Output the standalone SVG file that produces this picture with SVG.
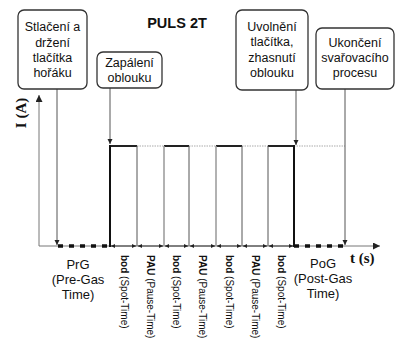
<svg xmlns="http://www.w3.org/2000/svg" width="405" height="342" viewBox="0 0 405 342">
<style>
.box{fill:#fff;stroke:#333;stroke-width:1.3}
.lbl{font-family:"Liberation Sans",Arial,sans-serif;font-size:12.5px;fill:#111;text-anchor:middle}
.rot{font-family:"Liberation Sans",Arial,sans-serif;font-size:10px;fill:#111}
.rot .b{font-weight:bold}
.ser{font-family:"Liberation Serif","Times New Roman",serif;font-weight:bold;font-size:15px;fill:#111}
.conn{stroke:#555;stroke-width:1;fill:none}
.axis{stroke:#777;stroke-width:1;fill:none}
.dim{stroke:#444;stroke-width:1;fill:none;marker-start:url(#dl);marker-end:url(#dr)}
</style>
<defs>
<marker id="ah" viewBox="0 0 10 10" refX="10" refY="5" markerWidth="5" markerHeight="6" markerUnits="userSpaceOnUse" orient="auto"><path d="M0,0L10,5L0,10z" fill="#222"/></marker>
<marker id="ax" viewBox="0 0 10 10" refX="10" refY="5" markerWidth="9" markerHeight="7" markerUnits="userSpaceOnUse" orient="auto"><path d="M0,0L10,5L0,10z" fill="#222"/></marker>
<marker id="dr" viewBox="0 0 10 10" refX="10" refY="5" markerWidth="5" markerHeight="4" markerUnits="userSpaceOnUse" orient="auto"><path d="M0,0L10,5L0,10z" fill="#222"/></marker>
<marker id="dl" viewBox="0 0 10 10" refX="0" refY="5" markerWidth="5" markerHeight="4" markerUnits="userSpaceOnUse" orient="auto"><path d="M10,0L0,5L10,10z" fill="#222"/></marker>
</defs>
<rect width="405" height="342" fill="#fff"/>

<text x="177" y="28" font-family="Liberation Sans,Arial,sans-serif" font-weight="bold" font-size="14.5" text-anchor="middle" fill="#111">PULS 2T</text>

<g id="axes">
<line class="axis" x1="39" y1="246" x2="39" y2="95" marker-end="url(#ax)"/>
<line class="axis" x1="39" y1="246" x2="380" y2="246" marker-end="url(#ax)"/>
<text class="ser" transform="translate(26,113) rotate(-90)" text-anchor="middle">I (A)</text>
<text class="ser" x="350" y="263">t (s)</text>
</g>

<g id="signal">
<line x1="58" y1="246" x2="110" y2="246" stroke="#111" stroke-width="3.5" stroke-dasharray="5,6"/>
<line x1="294" y1="246" x2="345" y2="246" stroke="#111" stroke-width="3.5" stroke-dasharray="5,6"/>
<g stroke="#aaa" stroke-width="1" stroke-dasharray="1.5,1">
<line x1="137" y1="146" x2="164" y2="146"/>
<line x1="189" y1="146" x2="216" y2="146"/>
<line x1="242" y1="146" x2="268" y2="146"/>
<line x1="294" y1="146" x2="345" y2="146"/>
</g>
<g stroke="#222" stroke-width="2">
<line x1="110" y1="146" x2="137" y2="146"/>
<line x1="164" y1="146" x2="189" y2="146"/>
<line x1="216" y1="146" x2="242" y2="146"/>
<line x1="268" y1="146" x2="294" y2="146"/>
</g>
<line x1="110" y1="247" x2="110" y2="145" stroke="#111" stroke-width="2"/>
<line x1="294" y1="247" x2="294" y2="145" stroke="#111" stroke-width="2"/>
<g stroke="#999" stroke-width="1.5">
<line x1="164" y1="246" x2="164" y2="146"/>
<line x1="216" y1="246" x2="216" y2="146"/>
</g>
<g stroke="#555" stroke-width="1">
<line x1="137" y1="246" x2="137" y2="146"/>
<line x1="189" y1="246" x2="189" y2="146"/>
<line x1="242" y1="246" x2="242" y2="146"/>
<line x1="268" y1="246" x2="268" y2="146"/>
</g>
<line class="dim" x1="111" y1="246" x2="136" y2="246"/>
<line class="dim" x1="138" y1="246" x2="163" y2="246"/>
<line class="dim" x1="165" y1="246" x2="188" y2="246"/>
<line class="dim" x1="190" y1="246" x2="215" y2="246"/>
<line class="dim" x1="217" y1="246" x2="241" y2="246"/>
<line class="dim" x1="243" y1="246" x2="267" y2="246"/>
<line class="dim" x1="269" y1="246" x2="293" y2="246"/>
</g>

<g id="connectors">
<line class="conn" x1="57" y1="89" x2="57" y2="245" marker-end="url(#ah)"/>
<line class="conn" x1="110" y1="88" x2="110" y2="144" marker-end="url(#ah)"/>
<line class="conn" x1="296" y1="90" x2="296" y2="145" marker-end="url(#ah)"/>
<line class="conn" x1="345" y1="89" x2="345" y2="245" marker-end="url(#ah)"/>
</g>

<g id="box1">
<rect class="box" x="18" y="10" width="69" height="79" rx="6"/>
<text class="lbl" x="52.5" y="31">Stlačení a</text>
<text class="lbl" x="52.5" y="46.5">držení</text>
<text class="lbl" x="52.5" y="62">tlačítka</text>
<text class="lbl" x="52.5" y="77">hořáku</text>
</g>
<g id="box2">
<rect class="box" x="97" y="52" width="65" height="36" rx="6"/>
<text class="lbl" x="129.5" y="67">Zapálení</text>
<text class="lbl" x="129.5" y="82">oblouku</text>
</g>
<g id="box3">
<rect class="box" x="236" y="10" width="72" height="80" rx="6"/>
<text class="lbl" x="272" y="30.5">Uvolnění</text>
<text class="lbl" x="272" y="46">tlačítka,</text>
<text class="lbl" x="272" y="61.5">zhasnutí</text>
<text class="lbl" x="272" y="77">oblouku</text>
</g>
<g id="box4">
<rect class="box" x="316" y="28" width="78" height="61" rx="6"/>
<text class="lbl" x="355" y="47">Ukončení</text>
<text class="lbl" x="355" y="62">svařovacího</text>
<text class="lbl" x="355" y="77">procesu</text>
</g>

<g id="labels">
<text class="lbl" font-size="13" x="78" y="269" style="font-size:13px">PrG</text>
<text class="lbl" x="78" y="284" style="font-size:13px">(Pre-Gas</text>
<text class="lbl" x="78" y="299" style="font-size:13px">Time)</text>
<text class="lbl" x="323" y="268" style="font-size:13px">PoG</text>
<text class="lbl" x="323" y="283" style="font-size:13px">(Post-Gas</text>
<text class="lbl" x="323" y="298" style="font-size:13px">Time)</text>
<text class="rot" transform="translate(120.5,255) rotate(90)"><tspan class="b">bod</tspan> (Spot-Time)</text>
<text class="rot" transform="translate(147,255) rotate(90)"><tspan class="b">PAU</tspan> (Pause-Time)</text>
<text class="rot" transform="translate(173,255) rotate(90)"><tspan class="b">bod</tspan> (Spot-Time)</text>
<text class="rot" transform="translate(199,255) rotate(90)"><tspan class="b">PAU</tspan> (Pause-Time)</text>
<text class="rot" transform="translate(225.5,255) rotate(90)"><tspan class="b">bod</tspan> (Spot-Time)</text>
<text class="rot" transform="translate(251.5,255) rotate(90)"><tspan class="b">PAU</tspan> (Pause-Time)</text>
<text class="rot" transform="translate(277.5,255) rotate(90)"><tspan class="b">bod</tspan> (Spot-Time)</text>
</g>
</svg>
